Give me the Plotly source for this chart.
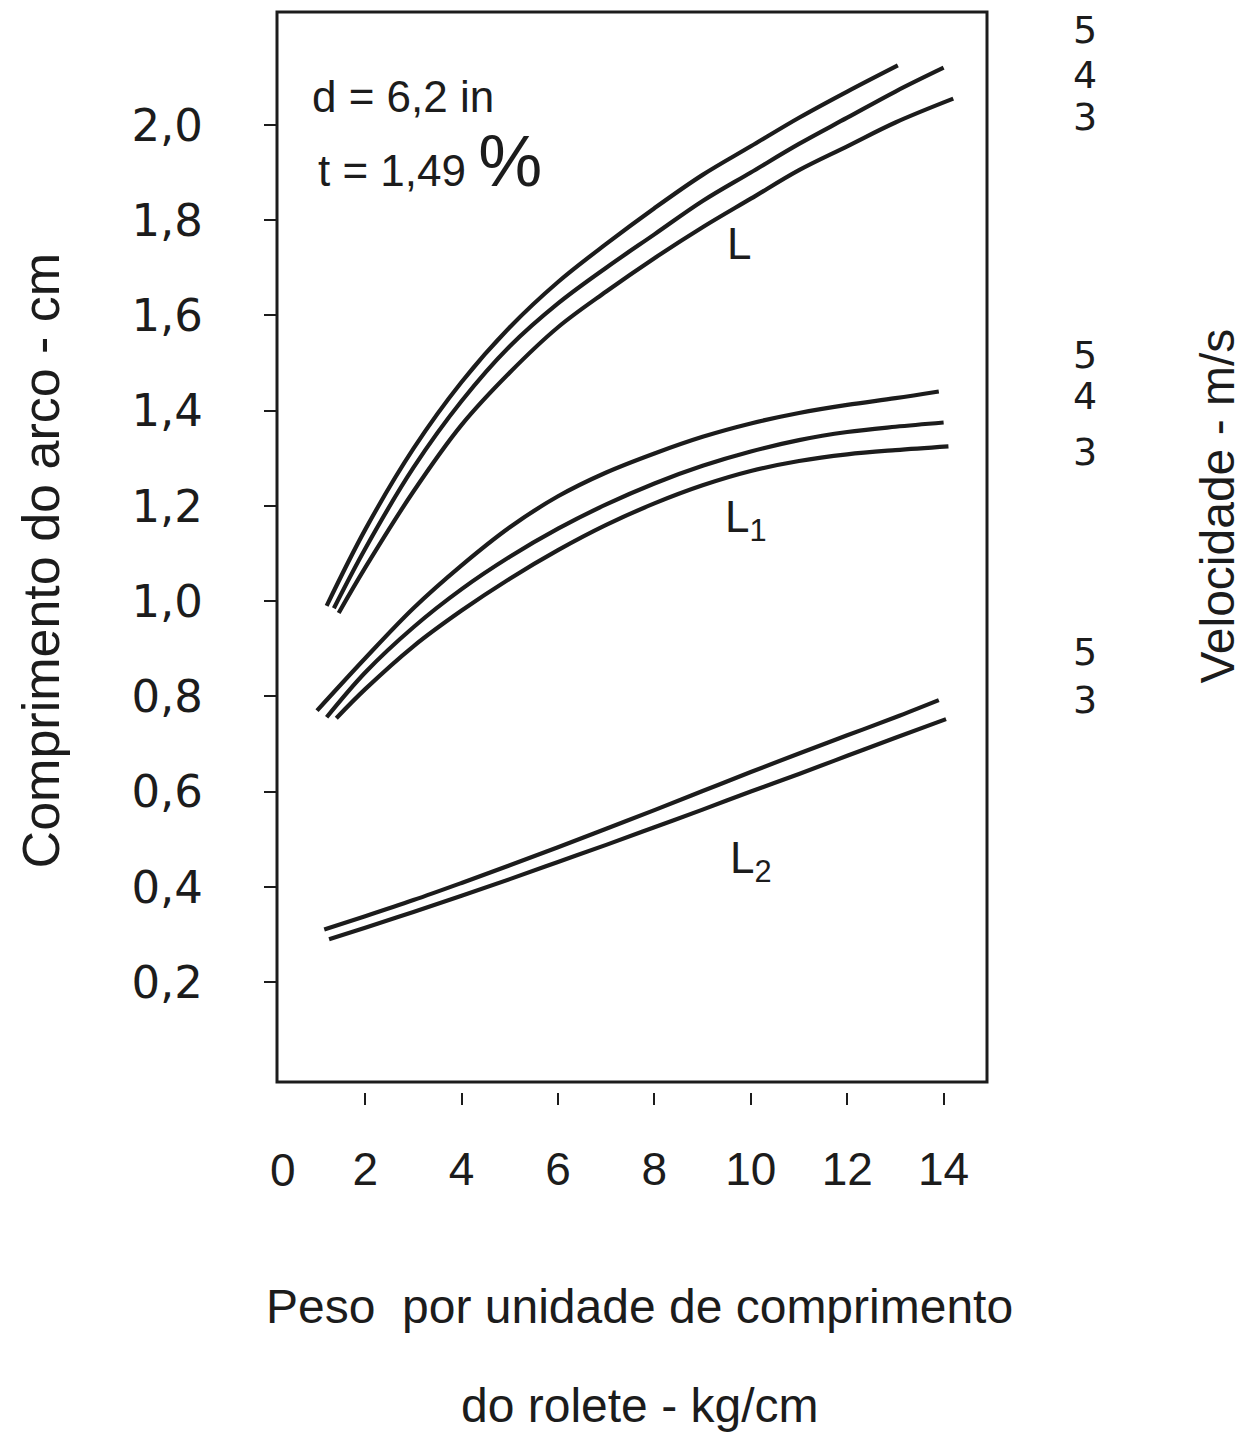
import plotly.graph_objects as go

# peso por unidade de comprimento (kg/cm) e comprimento do arco (cm)
L_V5_X = [1.2, 2, 3, 4, 5, 6, 7, 8, 9, 10, 11, 12, 13.05]
L_V5_Y = [0.99, 1.15, 1.32, 1.46, 1.575, 1.67, 1.75, 1.825, 1.895, 1.955, 2.015, 2.07, 2.125]
L_V4_X = [1.35, 2, 3, 4, 5, 6, 7, 8, 9, 10, 11, 12, 13, 14]
L_V4_Y = [0.985, 1.11, 1.28, 1.42, 1.535, 1.625, 1.70, 1.77, 1.84, 1.90, 1.96, 2.015, 2.07, 2.12]
L_V3_X = [1.45, 2, 3, 4, 5, 6, 7, 8, 9, 10, 11, 12, 13, 14.2]
L_V3_Y = [0.975, 1.07, 1.23, 1.37, 1.48, 1.575, 1.65, 1.72, 1.785, 1.845, 1.905, 1.955, 2.005, 2.055]

L1_V5_X = [1.0, 2, 3, 4, 5, 6, 7, 8, 9, 10, 11, 12, 13, 13.9]
L1_V5_Y = [0.77, 0.88, 0.985, 1.075, 1.155, 1.22, 1.27, 1.31, 1.345, 1.373, 1.395, 1.412, 1.426, 1.44]
L1_V4_X = [1.2, 2, 3, 4, 5, 6, 7, 8, 9, 10, 11, 12, 13, 14]
L1_V4_Y = [0.756, 0.85, 0.945, 1.025, 1.093, 1.152, 1.203, 1.247, 1.284, 1.314, 1.338, 1.355, 1.366, 1.375]
L1_V3_X = [1.4, 2, 3, 4, 5, 6, 7, 8, 9, 10, 11, 12, 13, 14.1]
L1_V3_Y = [0.754, 0.815, 0.905, 0.98, 1.047, 1.107, 1.16, 1.205, 1.243, 1.273, 1.294, 1.308, 1.317, 1.325]

L2_V5_X = [1.15, 2, 3, 4, 5, 6, 7, 8, 9, 10, 11, 12, 13, 13.9]
L2_V5_Y = [0.31, 0.338, 0.372, 0.408, 0.445, 0.483, 0.522, 0.561, 0.601, 0.641, 0.68, 0.718, 0.756, 0.792]
L2_V3_X = [1.25, 2, 3, 4, 5, 6, 7, 8, 9, 10, 11, 12, 13, 14.05]
L2_V3_Y = [0.29, 0.314, 0.347, 0.381, 0.416, 0.452, 0.488, 0.525, 0.562, 0.6, 0.637, 0.675, 0.713, 0.752]

X_TICKS = [2, 4, 6, 8, 10, 12, 14]
Y_TICKS = [0.2, 0.4, 0.6, 0.8, 1.0, 1.2, 1.4, 1.6, 1.8, 2.0]
Y_TICK_TEXT = ["0,2", "0,4", "0,6", "0,8", "1,0", "1,2", "1,4", "1,6", "1,8", "2,0"]

# velocidades (m/s) escritas à direita de cada família de curvas
VEL_L = ["5", "4", "3"]
VEL_L_POS = [2.2, 2.105, 2.017]
VEL_L1 = ["5", "4", "3"]
VEL_L1_POS = [1.517, 1.431, 1.313]
VEL_L2 = ["5", "3"]
VEL_L2_POS = [0.893, 0.792]

INK = "#1c1c1c"
SANS = "Liberation Sans, Arial, sans-serif"
WIDE = "DejaVu Sans, Liberation Sans, sans-serif"

curves = [
    (L_V5_X, L_V5_Y), (L_V4_X, L_V4_Y), (L_V3_X, L_V3_Y),
    (L1_V5_X, L1_V5_Y), (L1_V4_X, L1_V4_Y), (L1_V3_X, L1_V3_Y),
    (L2_V5_X, L2_V5_Y), (L2_V3_X, L2_V3_Y),
]

fig = go.Figure()
for xs, ys in curves:
    fig.add_trace(
        go.Scatter(
            x=xs,
            y=ys,
            mode="lines",
            line={"color": INK, "width": 4.2, "shape": "spline", "smoothing": 1.0},
            showlegend=False,
            hoverinfo="skip",
        )
    )

annotations = []

def note(text, x, y, size, font=SANS, xref="x", yref="y", angle=0, xanchor="center"):
    annotations.append(
        dict(
            text=text, x=x, y=y, xref=xref, yref=yref, showarrow=False,
            textangle=angle, xanchor=xanchor, yanchor="middle",
            font={"family": font, "size": size, "color": INK},
        )
    )

for labels, positions in [(VEL_L, VEL_L_POS), (VEL_L1, VEL_L1_POS), (VEL_L2, VEL_L2_POS)]:
    for lab, pos in zip(labels, positions):
        note(lab, 1.138, pos, 38, font=WIDE, xref="paper")

note("d = 6,2 in", 0.85, 2.06, 44, xanchor="left")
note("t = 1,49 <span style='font-size:72px'>%</span>", 0.98, 1.925, 44, xanchor="left")
note("L", 9.75, 1.75, 44)
note("L<sub>1</sub>", 9.9, 1.17, 44)
note("L<sub>2</sub>", 10.0, 0.455, 44)
note("0", 0.3, -0.0546, 46, yref="paper")

note("Comprimento do arco - cm", -0.332, 1.086, 52, xref="paper", angle=-90)
note("Velocidade - m/s", 1.325, 1.2, 48, xref="paper", angle=-90)
note("Peso  por unidade de comprimento", 0.511, -0.179, 48, xref="paper", yref="paper")
note("do rolete - kg/cm", 0.511, -0.269, 48, xref="paper", yref="paper")

fig.update_layout(
    width=1257,
    height=1439,
    margin={"l": 269, "r": 278, "t": 4, "b": 337},
    paper_bgcolor="white",
    plot_bgcolor="white",
    showlegend=False,
    annotations=annotations,
    shapes=[
        dict(
            type="rect", xref="x domain", yref="y domain",
            x0=0, x1=1, y0=0, y1=1,
            line={"color": INK, "width": 3},
        )
    ],
    xaxis=dict(
        range=[0.17, 14.9],
        tickvals=X_TICKS,
        ticks="outside",
        ticklen=12,
        tickwidth=1.5,
        tickcolor=INK,
        ticklabelstandoff=24,
        tickfont={"family": SANS, "size": 46, "color": INK},
        showgrid=False,
        zeroline=False,
        showline=False,
        anchor="free",
        position=0.016,
    ),
    yaxis=dict(
        range=[-0.01, 2.237],
        domain=[0.0255, 1],
        tickvals=Y_TICKS,
        ticktext=Y_TICK_TEXT,
        ticks="outside",
        ticklen=12,
        tickwidth=1.5,
        tickcolor=INK,
        ticklabelstandoff=52,
        tickfont={"family": WIDE, "size": 45, "color": INK},
        showgrid=False,
        zeroline=False,
        showline=False,
    ),
)

fig.write_html("out.html")
